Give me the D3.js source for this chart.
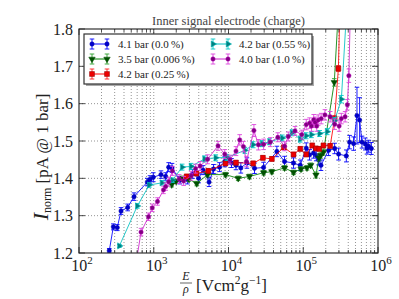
<!DOCTYPE html>
<html><head><meta charset="utf-8">
<script src="https://cdn.jsdelivr.net/npm/d3@7"></script>
<style>body{margin:0;background:#fff}svg{display:block}</style>
</head><body><div id="c"></div>
<script>
// ---------- data ----------
const blueX = [254,288,325,365,448,545,820,891,986,1250,1445,1585,1754,2239,2818,3311,3981,4571,5495,6310,7586,8913,10965,12589,14622,17620,22284,29444,44360,56234,74131,91201,109648,121619,137404,149279,160325,172584,218273,263027,297167,376704,416869,472063,523600,567545,610942,676083,712853,749894,814704];
const blueY = [1.206,1.270,1.268,1.3125,1.322,1.351,1.390,1.397,1.403,1.410,1.405,1.430,1.428,1.395,1.397,1.412,1.400,1.422,1.390,1.425,1.430,1.445,1.441,1.435,1.428,1.441,1.427,1.429,1.472,1.445,1.441,1.435,1.481,1.463,1.468,1.461,1.450,1.435,1.475,1.480,1.465,1.460,1.497,1.493,1.568,1.556,1.497,1.492,1.481,1.486,1.480];
const blueE = [0.006,0.008,0.008,0.009,0.009,0.010,0.010,0.010,0.012,0.010,0.010,0.012,0.012,0.010,0.012,0.012,0.012,0.012,0.012,0.012,0.012,0.014,0.012,0.012,0.014,0.014,0.014,0.014,0.014,0.014,0.014,0.014,0.014,0.014,0.014,0.014,0.014,0.014,0.014,0.014,0.016,0.016,0.018,0.018,0.076,0.060,0.016,0.016,0.016,0.016,0.016];

const greenX = [1738,1995,2399,2951,3758,5248,9120,13490,19055,29512,38019,56234,74131,93325,112202,125893,147911,162181,171791,186209,260016,295121];
const greenY = [1.383,1.392,1.400,1.398,1.386,1.410,1.410,1.400,1.405,1.415,1.418,1.428,1.416,1.425,1.428,1.435,1.409,1.455,1.462,1.470,1.657,1.850];
const greenE = [0.006,0.006,0.006,0.006,0.006,0.006,0.006,0.006,0.006,0.006,0.006,0.006,0.006,0.006,0.006,0.006,0.008,0.008,0.008,0.008,0.010,0.010];

const redX = [2754,3715,5370,9120,12589,21380,28840,38019,54954,74131,91201,109648,131826,147911,164059,186209,229087,263027,295121,309030];
const redY = [1.405,1.413,1.420,1.440,1.442,1.440,1.455,1.452,1.483,1.464,1.479,1.464,1.488,1.480,1.479,1.488,1.487,1.560,1.694,1.850];
const redE = [0.006,0.006,0.006,0.006,0.006,0.006,0.006,0.006,0.006,0.006,0.006,0.006,0.006,0.006,0.006,0.006,0.006,0.008,0.008,0.008];

const cyanX = [347,603,871,1288,1778,2399,3162,4786,6761,9550,16596,21380,28184,35481,52481,70795,91201,109648,128825,165959,208930,263027,323594,380189];
const cyanY = [1.219,1.326,1.382,1.388,1.395,1.430,1.432,1.452,1.455,1.456,1.475,1.490,1.493,1.498,1.508,1.522,1.505,1.514,1.517,1.520,1.525,1.555,1.612,1.850];
const cyanE = [0.004,0.006,0.006,0.006,0.006,0.008,0.008,0.008,0.008,0.008,0.008,0.008,0.008,0.008,0.008,0.008,0.008,0.008,0.008,0.008,0.008,0.008,0.010,0.010];

const magX = [556,676,851,955,1122,1349,1445,1585,1778,2188,2512,3162,3631,4169,5248,7244,8913,10471,12589,14125,15849,17378,21878,25119,29512,36308,45709,56234,63096,77625,95499,109648,121619,128825,138038,144544,151356,158489,173780,194984,229087,263027,301995,323594,363078,389045,407380,426580];
const magY = [1.150,1.256,1.297,1.321,1.338,1.369,1.378,1.391,1.420,1.398,1.393,1.407,1.426,1.433,1.451,1.487,1.465,1.450,1.473,1.503,1.485,1.445,1.528,1.490,1.491,1.497,1.510,1.486,1.512,1.527,1.517,1.544,1.548,1.540,1.557,1.550,1.540,1.556,1.560,1.570,1.565,1.545,1.540,1.560,1.565,1.597,1.675,1.850];
const magE = [0.010,0.010,0.010,0.010,0.010,0.010,0.010,0.012,0.012,0.012,0.012,0.012,0.012,0.012,0.012,0.012,0.012,0.012,0.012,0.014,0.014,0.014,0.016,0.014,0.014,0.012,0.012,0.012,0.012,0.012,0.012,0.014,0.014,0.014,0.014,0.014,0.014,0.014,0.014,0.014,0.014,0.014,0.014,0.014,0.014,0.014,0.018,0.018];

const seriesNames = ["4.1 bar (0.0\u2009%)","3.5 bar (0.006\u2009%)","4.2 bar (0.25\u2009%)","4.2 bar (0.55\u2009%)","4.0 bar (1.0\u2009%)"];
const yTicks = [1.2,1.3,1.4,1.5,1.6,1.7,1.8];
const xDecades = [2,3,4,5,6];
const titleText = "Inner signal electrode (charge)";

// ---------- chart ----------
const FONT = "'Liberation Serif','DejaVu Serif','Times New Roman',serif";
const W=399,H=299, L=79,R=378,T=29,B=253;
const svg=d3.select("#c").append("svg").attr("width",W).attr("height",H)
  .attr("font-family",FONT).style("font-family",FONT);
const x=d3.scaleLog().domain([1e2,1e6]).range([L,R]);
const y=d3.scaleLinear().domain([1.2,1.8]).range([B,T]);

const series=[
 {name:seriesNames[0],xs:blueX,ys:blueY,es:blueE,line:"#0000ff",err:"#0000ff",fill:"#0000cc",edge:"#0000aa",sym:"circle",size:15},
 {name:seriesNames[1],xs:greenX,ys:greenY,es:greenE,line:"#008000",err:"#30a030",fill:"#005000",edge:"#005000",sym:"tdown",size:18},
 {name:seriesNames[2],xs:redX,ys:redY,es:redE,line:"#ff0000",err:"#ff2020",fill:"#ee0000",edge:"#880000",sym:"square",size:24},
 {name:seriesNames[3],xs:cyanX,ys:cyanY,es:cyanE,line:"#00bfbf",err:"#00c8c8",fill:"#008080",edge:"#00bfbf",sym:"tright",size:17},
 {name:seriesNames[4],xs:magX,ys:magY,es:magE,line:"#cc22cc",err:"#dd44dd",fill:"#800080",edge:"#bf00bf",sym:"circle",size:15}
];
function symPath(s){
  if(s.sym==="circle") return {d:d3.symbol(d3.symbolCircle,s.size)(),rot:0};
  if(s.sym==="square") return {d:d3.symbol(d3.symbolSquare,s.size)(),rot:0};
  if(s.sym==="tdown") return {d:d3.symbol(d3.symbolTriangle,s.size)(),rot:180};
  if(s.sym==="tright") return {d:d3.symbol(d3.symbolTriangle,s.size)(),rot:90};
}

// grid
const g=svg.append("g");
const minor=[];
xDecades.forEach(k=>{ if(k<6){ for(let m=1;m<=9;m++) minor.push(m*Math.pow(10,k)); } });
g.selectAll("line.gx").data(minor.filter(v=>v>1e2&&v<1e6)).enter().append("line")
 .attr("x1",d=>x(d)).attr("x2",d=>x(d)).attr("y1",T).attr("y2",B)
 .attr("stroke","#666").attr("stroke-width",0.7).attr("stroke-dasharray","1,2");
g.selectAll("line.gy").data(yTicks.slice(1,-1)).enter().append("line")
 .attr("x1",L).attr("x2",R).attr("y1",d=>y(d)).attr("y2",d=>y(d))
 .attr("stroke","#666").attr("stroke-width",0.7).attr("stroke-dasharray","1,2");

// clip
svg.append("clipPath").attr("id","clip").append("rect").attr("x",L).attr("y",T).attr("width",R-L).attr("height",B-T);
const pg=svg.append("g").attr("clip-path","url(#clip)");

series.forEach(s=>{
  const pts=s.xs.map((v,i)=>({x:v,y:s.ys[i],e:s.es[i]}));
  const gs=pg.append("g");
  gs.append("path").attr("d",d3.line().x(d=>x(d.x)).y(d=>y(d.y))(pts))
    .attr("fill","none").attr("stroke",s.line).attr("stroke-width",1).attr("stroke-opacity",0.85);
  const eb=gs.selectAll("g.eb").data(pts).enter().append("g");
  eb.append("line").attr("x1",d=>x(d.x)).attr("x2",d=>x(d.x)).attr("y1",d=>y(d.y-d.e)).attr("y2",d=>y(d.y+d.e)).attr("stroke",s.err).attr("stroke-width",0.9);
  eb.append("line").attr("x1",d=>x(d.x)-2.3).attr("x2",d=>x(d.x)+2.3).attr("y1",d=>y(d.y-d.e)).attr("y2",d=>y(d.y-d.e)).attr("stroke",s.err).attr("stroke-width",0.9);
  eb.append("line").attr("x1",d=>x(d.x)-2.3).attr("x2",d=>x(d.x)+2.3).attr("y1",d=>y(d.y+d.e)).attr("y2",d=>y(d.y+d.e)).attr("stroke",s.err).attr("stroke-width",0.9);
  const sp=symPath(s);
  gs.selectAll("path.m").data(pts).enter().append("path").attr("d",sp.d)
    .attr("transform",d=>`translate(${x(d.x)},${y(d.y)}) rotate(${sp.rot})`)
    .attr("fill",s.fill).attr("stroke",s.edge).attr("stroke-width",0.5);
});

// frame
svg.append("rect").attr("x",L).attr("y",T).attr("width",R-L).attr("height",B-T).attr("fill","none").attr("stroke","#333").attr("stroke-width",1.2);

// ticks (inward)
const ax=svg.append("g").attr("stroke","#222").attr("stroke-width",0.8);
xDecades.forEach(k=>{const v=Math.pow(10,k);
  ax.append("line").attr("x1",x(v)).attr("x2",x(v)).attr("y1",B).attr("y2",B-6);
  ax.append("line").attr("x1",x(v)).attr("x2",x(v)).attr("y1",T).attr("y2",T+6);});
minor.filter(v=>v>1e2&&v<1e6&&!xDecades.some(k=>Math.abs(v-Math.pow(10,k))<1e-6)).forEach(v=>{
  ax.append("line").attr("x1",x(v)).attr("x2",x(v)).attr("y1",B).attr("y2",B-3);
  ax.append("line").attr("x1",x(v)).attr("x2",x(v)).attr("y1",T).attr("y2",T+3);});
yTicks.forEach(v=>{
  ax.append("line").attr("x1",L).attr("x2",L+6).attr("y1",y(v)).attr("y2",y(v));
  ax.append("line").attr("x1",R).attr("x2",R-6).attr("y1",y(v)).attr("y2",y(v));});

// tick labels
svg.selectAll("text.yl").data(yTicks).enter().append("text")
 .attr("x",L-6).attr("y",d=>y(d)+5.5).attr("text-anchor","end").attr("font-size",16).attr("fill","#222").text(d=>d.toFixed(1));
xDecades.forEach(k=>{
  const t=svg.append("text").attr("x",x(Math.pow(10,k))+3).attr("y",271).attr("text-anchor","middle").attr("font-size",16).attr("fill","#222");
  t.append("tspan").text("10");
  t.append("tspan").attr("dy",-7).attr("font-size",11).text(String(k));
});

// title
svg.append("text").attr("x",(L+R)/2).attr("y",25).attr("text-anchor","middle").attr("font-size",12.5).attr("fill","#444").text(titleText);

// x label
svg.append("text").attr("x",186).attr("y",280).attr("text-anchor","middle").attr("font-size",12).attr("font-style","italic").attr("fill","#222").text("E");
svg.append("line").attr("x1",180).attr("x2",192).attr("y1",283).attr("y2",283).attr("stroke","#222").attr("stroke-width",0.7);
svg.append("text").attr("x",186).attr("y",293).attr("text-anchor","middle").attr("font-size",12).attr("font-style","italic").attr("fill","#222").text("\u03c1");
const xl=svg.append("text").attr("x",196).attr("y",291).attr("font-size",17).attr("fill","#222");
xl.append("tspan").text("[Vcm");
xl.append("tspan").attr("dy",-7).attr("font-size",11.5).text("2");
xl.append("tspan").attr("dy",7).text("g");
xl.append("tspan").attr("dy",-7).attr("font-size",11.5).text("\u22121");
xl.append("tspan").attr("dy",7).text("]");

// y label
const yl=svg.append("text").attr("transform",`translate(48,157) rotate(-90)`).attr("text-anchor","middle").attr("font-size",17).attr("fill","#222");
yl.append("tspan").attr("font-style","italic").attr("font-size",22).text("I");
yl.append("tspan").attr("dy",3).attr("font-size",12).text("norm");
yl.append("tspan").attr("dy",-3).text(" [pA @ 1 bar]");

// legend
const lg=svg.append("g");
lg.append("rect").attr("x",86).attr("y",36).attr("width",228).attr("height",50).attr("fill","#aaa");
lg.append("rect").attr("x",84).attr("y",34).attr("width",228).attr("height",50).attr("fill","#fff").attr("stroke","#333").attr("stroke-width",1.2);
const pos=[[92,44],[92,59],[92,74],[213,44],[213,59]];
series.forEach((s,i)=>{
  const [lx,ly]=pos[i]; const sp=symPath(s);
  lg.append("line").attr("x1",lx).attr("x2",lx+15).attr("y1",ly).attr("y2",ly).attr("stroke",s.line).attr("stroke-width",1);
  [lx,lx+15].forEach(px=>{
    lg.append("line").attr("x1",px).attr("x2",px).attr("y1",ly-5).attr("y2",ly+5).attr("stroke",s.err).attr("stroke-width",0.9);
    lg.append("line").attr("x1",px-2.3).attr("x2",px+2.3).attr("y1",ly-5).attr("y2",ly-5).attr("stroke",s.err).attr("stroke-width",0.9);
    lg.append("line").attr("x1",px-2.3).attr("x2",px+2.3).attr("y1",ly+5).attr("y2",ly+5).attr("stroke",s.err).attr("stroke-width",0.9);
    lg.append("path").attr("d",sp.d).attr("transform",`translate(${px},${ly}) rotate(${sp.rot})`).attr("fill",s.fill).attr("stroke",s.edge).attr("stroke-width",0.5);
  });
  lg.append("text").attr("x",lx+26).attr("y",ly+4).attr("font-size",11).attr("fill","#222").text(s.name);
});
</script></body></html>
